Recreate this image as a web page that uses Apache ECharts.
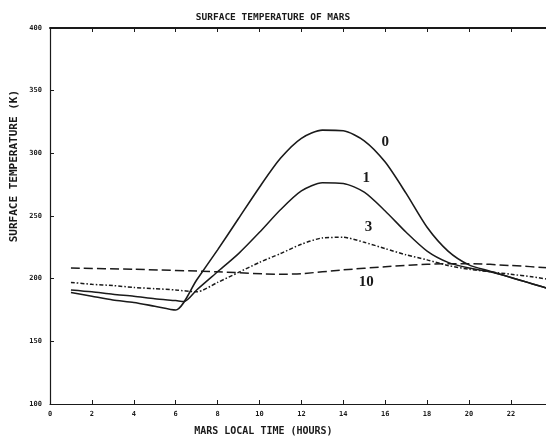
<!DOCTYPE html>
<html>
<head>
<meta charset="utf-8">
<script src="https://cdn.jsdelivr.net/npm/echarts@6/dist/echarts.min.js"></script>
<style>html,body{margin:0;padding:0;background:#fff;overflow:hidden;width:546px;height:441px}#c{width:560px;height:441px}</style>
</head>
<body>
<div id="c"></div>
<script>
var xTicks = [0,2,4,6,8,10,12,14,16,18,20,22,24];
var yTicks = [100,150,200,250,300,350,400];

var hours0 = [1,2,3,4,5,6,7,8,9,10,11,12,13,14,15,16,17,18,19,20,21,22,23,24];
var temp0  = [189,186,183,181,178,175,199,223,248,273,296,312,318.5,318,310,293,268,241,222,211,206,201,196,191];

var hours1 = [1,2,3,4,5,6,6.4,7,8,9,10,11,12,13,14,15,16,17,18,19,20,21,22,23,24];
var temp1  = [191,189.5,187.5,186,184,182.5,181.8,191,205.5,220,237,255,270,276.5,276,269,254,237,222,213,208.5,205.5,201,196,191];

var hours3 = [1,2,3,4,5,6,7,8,9,10,11,12,13,14,15,16,17,18,19,20,21,22,23,24];
var temp3  = [197,195.5,194.5,193,192,191,189.5,197,205,213,220,227.5,232.5,233,229,224,219,215,210.5,207.5,205.5,203.5,201.5,199];

var hours10 = [1,4,8,11,12,14,16,18,20,22,24];
var temp10  = [208.5,207.5,205.5,203.5,204,207,209.5,211.5,212,210.5,208.5];

var curveNames = ['0','1','3','10'];
var labelPos = [[16,309],[15.1,280],[15.2,241],[15.1,197.5]];

function pairs(h,t){ return h.map(function(v,i){return [v,t[i]];}); }

var ink = '#1a1a1a';
var monoFont = 'DejaVu Sans Mono';

function mkSeries(name, h, t, type, lp, width){
  return {
    name: name, type: 'line', data: pairs(h,t), smooth: 0.25, showSymbol: false,
    lineStyle: {color: ink, width: width, type: type},
    markPoint: {
      symbol: 'circle', symbolSize: 0,
      label: {show: true, formatter: name, color: ink, fontFamily: 'Liberation Serif', fontWeight: 'bold', fontSize: 15},
      data: [{coord: lp}]
    },
    z: 3
  };
}

var chart = echarts.init(document.getElementById('c'));
chart.setOption({
  backgroundColor: '#fff',
  animation: false,
  title: {
    text: 'SURFACE TEMPERATURE OF MARS', left: 268, top: 8, textAlign: 'center',
    textStyle: {fontFamily: monoFont, fontWeight: 'bold', fontSize: 9.5, color: ink}
  },
  grid: {left: 50, right: 6, top: 28, bottom: 36},
  xAxis: [{
    type: 'value', min: 0, max: 24, interval: 2, position: 'bottom',
    axisLine: {lineStyle: {color: ink, width: 1.2}},
    axisTick: {inside: true, length: 4, lineStyle: {color: ink}},
    axisLabel: {color: ink, fontFamily: monoFont, fontWeight: 'bold', fontSize: 7, margin: 7,
      formatter: function(v){ return xTicks.indexOf(v) >= 0 ? String(v) : ''; }},
    splitLine: {show: false},
    name: 'MARS LOCAL TIME (HOURS)', nameLocation: 'middle', nameGap: 22,
    nameTextStyle: {color: ink, fontFamily: monoFont, fontWeight: 'bold', fontSize: 10, padding: [0,0,0,-76]}
  },{
    type: 'value', min: 0, max: 24, interval: 2, position: 'top',
    axisLine: {lineStyle: {color: ink, width: 2}},
    axisTick: {inside: true, length: 4, lineStyle: {color: ink}},
    axisLabel: {show: false}, splitLine: {show: false}
  }],
  yAxis: {
    type: 'value', min: 100, max: 400, interval: 50,
    axisLine: {show: true, lineStyle: {color: ink, width: 1.2}},
    axisTick: {show: true, inside: true, length: 4, lineStyle: {color: ink}},
    axisLabel: {color: ink, fontFamily: monoFont, fontWeight: 'bold', fontSize: 7, margin: 8,
      formatter: function(v){ return yTicks.indexOf(v) >= 0 ? String(v) : ''; }},
    splitLine: {show: false}
  },
  graphic: [{
    type: 'text', left: 9, top: 90, rotation: Math.PI/2,
    style: {text: 'SURFACE TEMPERATURE (K)', fill: ink, font: 'bold 11px "DejaVu Sans Mono"'}
  }],
  series: [
    mkSeries(curveNames[0], hours0, temp0, 'solid', labelPos[0], 1.6),
    mkSeries(curveNames[1], hours1, temp1, 'solid', labelPos[1], 1.5),
    mkSeries(curveNames[2], hours3, temp3, [4,2,1.5,2], labelPos[2], 1.5),
    mkSeries(curveNames[3], hours10, temp10, [9,4], labelPos[3], 1.5)
  ]
});
</script>
</body>
</html>
